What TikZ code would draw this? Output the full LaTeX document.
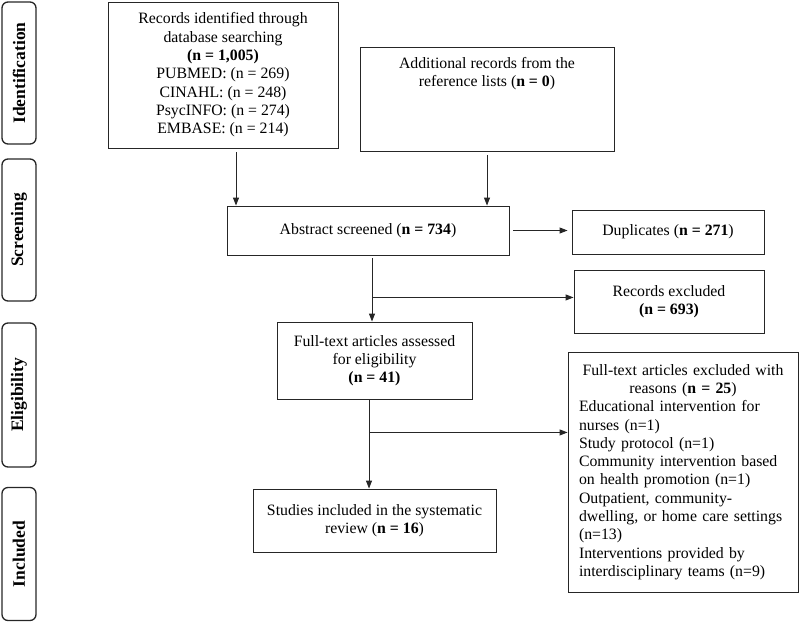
\documentclass[tikz,border=0pt]{standalone}
\usepackage{fontspec}
\setmainfont{Liberation Serif}
\usetikzlibrary{arrows.meta}
\begin{document}
\begin{tikzpicture}[x=1pt,y=-1pt,
  box/.style={draw=black!85, line width=0.9pt, inner sep=0pt, align=center,
    font=\fontsize{15.8}{18.3}\selectfont},
  side/.style={draw=black!85, line width=1.3pt, rounded corners=6pt, inner sep=0pt,
    rotate=90, minimum height=34pt, font=\fontsize{17.5}{18}\selectfont\bfseries},
  arr/.style={draw=black!85, line width=0.9pt, -{Triangle[length=8pt,width=6pt]}}]
\useasboundingbox (0,0) rectangle (800,622);

% phase labels
\node[side, minimum width=142pt] (sid) at (19,73) {Identification};
\node[side, minimum width=142pt] (ssc) at (19,230) {Screening};
\node[side, minimum width=144pt] (sel) at (19,395) {Eligibility};
\node[side, minimum width=133pt] (sin) at (19,554) {Included};

% boxes
\node[box, minimum width=230pt, minimum height=146pt] (b1) at (223,75)
  {Records identified through\\ database searching\\ \textbf{(n = 1,005)}\\
   PUBMED: (n = 269)\\ CINAHL: (n = 248)\\ PsycINFO: (n = 274)\\ EMBASE: (n = 214)};
\node[box, minimum width=254pt, minimum height=104pt] (b2) at (487,99)
  {Additional records from the\\ reference lists (\textbf{n = 0})\\[36pt]\mbox{}};
\node[box, minimum width=282pt, minimum height=49pt] (abs) at (368,230.5)
  {Abstract screened (\textbf{n = 734})};
\node[box, minimum width=192pt, minimum height=44pt] (dup) at (668,232)
  {Duplicates (\textbf{n = 271})};
\node[box, minimum width=190pt, minimum height=63pt] (rex) at (669,301.5)
  {Records excluded\\ \textbf{(n = 693)}};
\node[box, minimum width=195pt, minimum height=77pt] (fta) at (374.5,360.5)
  {Full-text articles assessed\\ for eligibility\\ \textbf{(n = 41)}};
\node[box, minimum width=243pt, minimum height=63pt] (stu) at (374.5,520.5)
  {Studies included in the systematic\\ review (\textbf{n = 16})};
\node[box, text width=208pt, align=left, inner xsep=11pt, minimum height=240pt] (fte) at (683,472)
  {\makebox[208pt]{Full-text articles excluded with}\\
   \makebox[208pt]{reasons (\textbf{n = 25})}\\
   Educational intervention for\\ nurses (n=1)\\ Study protocol (n=1)\\
   Community intervention based\\ on health promotion (n=1)\\
   Outpatient, community-\\ dwelling, or home care settings\\ (n=13)\\
   Interventions provided by\\ interdisciplinary teams (n=9)};

% connectors
\coordinate (a1) at ([xshift=13pt]b1.south);
\draw[arr, shorten <=4pt] (a1) -- (a1 |- abs.north);
\draw[arr, shorten <=4pt] (b2.south) -- (b2.south |- abs.north);
\draw[arr, shorten <=4pt, shorten >=4pt] (abs.east) -- (abs.east -| dup.west);
\coordinate (a3) at ([xshift=4pt]abs.south);
\draw[arr, shorten <=3pt] (a3) -- (a3 |- fta.north);
\path (a3) ++(0,42) coordinate (j1);
\draw[arr] (j1) -- (j1 -| rex.west);
\coordinate (a4) at ([xshift=-5.5pt]fta.south);
\draw[arr] (a4) -- (a4 |- stu.north);
\path (a4) ++(0,33) coordinate (j2);
\draw[arr] (j2) -- (j2 -| fte.west);
\end{tikzpicture}
\end{document}
